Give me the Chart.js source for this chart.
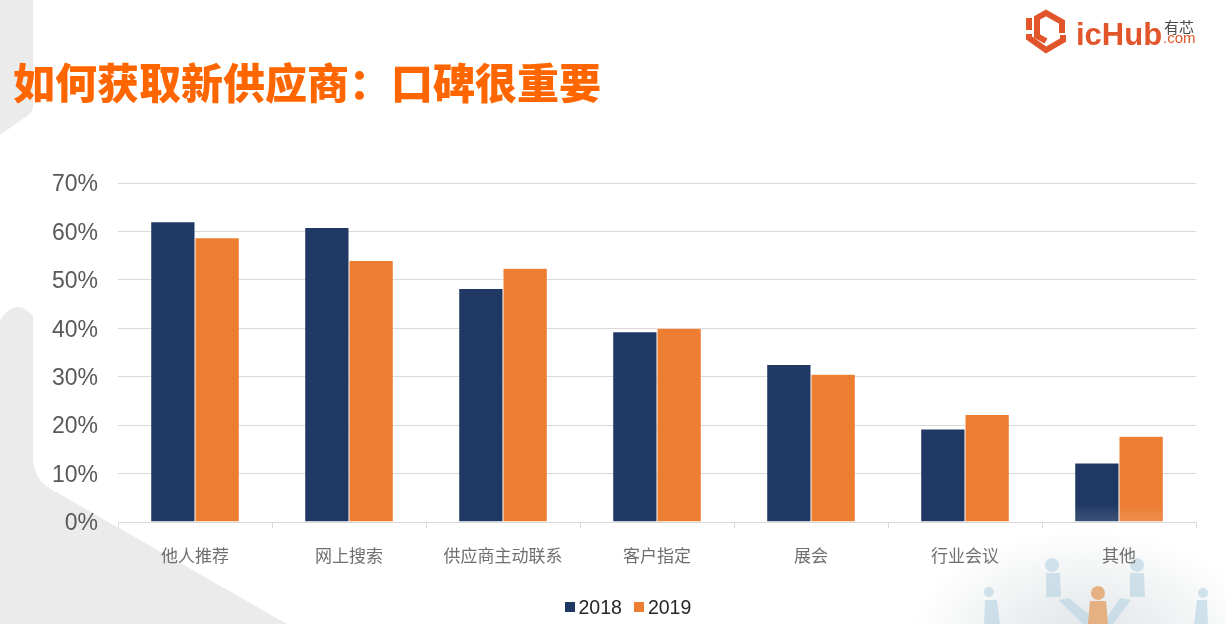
<!DOCTYPE html>
<html lang="zh-CN">
<head>
<meta charset="utf-8">
<title>如何获取新供应商</title>
<script src="https://cdn.jsdelivr.net/npm/chart.js@4/dist/chart.umd.min.js"></script>
<style>
  html, body { margin: 0; padding: 0; background: #fff; overflow: hidden; }
  #slide { position: relative; width: 1225px; height: 624px; overflow: hidden; }
  #bg, #logo, #trendsChart, #title, #fade, #legend { position: absolute; }
  #bg, #trendsChart { left: 0; top: 0; }
  #title {
    left: 13px; top: 51px; margin: 0; white-space: nowrap;
    font: 900 42px/60px "Noto Sans CJK SC", sans-serif; color: #ff6600;
  }
  #logo { left: 1020px; top: 4px; }
  #fade {
    left: 1075px; top: 503px; width: 87px; height: 19px;
    background: linear-gradient(rgba(255,255,255,0), rgba(255,255,255,.14));
  }
  #legend {
    left: 565px; top: 596px; display: flex; align-items: center; height: 22px;
    font: 19.5px/22px "Liberation Sans", sans-serif; color: #262626;
  }
  #legend span.swatch { width: 9.5px; height: 9.5px; margin-right: 4px; }
  #legend span.name { margin-right: 12.5px; }
</style>
</head>
<body>
<div id="slide">
  <svg id="bg" width="1225" height="624" viewBox="0 0 1225 624">
    <defs>
      <radialGradient id="corner">
        <stop offset="0" stop-color="#dfe5e8"/>
        <stop offset="0.55" stop-color="#f0f2f3"/>
        <stop offset="1" stop-color="#ffffff"/>
      </radialGradient>
    </defs>
    <path fill="#ebebeb" d="M0 0H33V106Q33 112 27 116L0 135Z"/>
    <path fill="#ebebeb" d="M0 320Q16 296 33 316V455Q33 478 49 488L287 624H0Z"/>
    <ellipse cx="1085" cy="640" rx="175" ry="110" fill="url(#corner)"/>
    <g fill="#b5d3e3" opacity=".6">
      <circle cx="989" cy="592" r="5"/><path d="M985 600h12l3 24h-16z"/>
      <circle cx="1052" cy="565" r="7"/><path d="M1046 573h14l1 24h-15z"/>
      <circle cx="1137" cy="565" r="7"/><path d="M1130 573h14l1 24h-15z"/>
      <circle cx="1203" cy="593" r="5"/><path d="M1197 600h10l1 24h-14z"/>
      <path d="M1058 600l11-2 27 22-5 4h-8z"/>
      <path d="M1131 600l-11-2-17 26h10z"/>
    </g>
    <circle cx="1098" cy="593" r="7" fill="#e5b183"/>
    <path fill="#e5b183" d="M1090 601h16l2 23h-20z"/>
  </svg>

  <canvas id="trendsChart" width="1225" height="624"></canvas>
  <div id="fade"></div>
  <div id="legend"></div>
  <h1 id="title">如何获取新供应商：口碑很重要</h1>

  <svg id="logo" width="185" height="54" viewBox="0 0 185 54">
    <g fill="none" stroke="#e2552a" stroke-width="6">
      <path d="M42 29V18L26 9L17 14V32L26 37"/>
      <path d="M9 14V26"/>
      <path d="M9 30V34L26 46L43 36V31"/>
    </g>
    <text x="56" y="41" font-family="Liberation Sans" font-weight="700" font-size="31" fill="#e2552a">icHub</text>
    <text x="144" y="29" font-family="Noto Sans CJK SC" font-size="15" fill="#4a4a4a">有芯</text>
    <text x="143" y="39" font-family="Liberation Sans" font-size="15" fill="#e2552a">.com</text>
  </svg>
</div>

<script>
const categories = ['他人推荐', '网上搜索', '供应商主动联系', '客户指定', '展会', '行业会议', '其他'];
const series2018 = [62, 60.8, 48.2, 39.3, 32.5, 19.2, 12.2];
const series2019 = [58.7, 54, 52.4, 40, 30.5, 22.2, 17.7];
const yearLabels = ['2018', '2019'];
const yMax = 70;
const yStep = 10;

const navy = '#1f3864';
const orange = '#ed7d31';
const gridColor = '#d9d9d9';

const ctx = document.getElementById('trendsChart').getContext('2d');

const chart = new Chart(ctx, {
    type: 'bar',
    data: {
        labels: categories,
        datasets: [
            { label: yearLabels[0], data: series2018, backgroundColor: navy },
            { label: yearLabels[1], data: series2019, backgroundColor: orange }
        ]
    },
    options: {
        responsive: false,
        animation: false,
        devicePixelRatio: 1,
        datasets: {
            // thin white border keeps the gridlines off the bars
            bar: {
                categoryPercentage: 0.575,
                barPercentage: 1,
                borderColor: '#ffffff',
                borderWidth: 0.5,
                borderSkipped: 'bottom'
            }
        },
        layout: {
            padding: { left: 0, right: 29, top: 183, bottom: 0 }
        },
        plugins: {
            tooltip: { enabled: false },
            legend: { display: false }
        },
        scales: {
            x: {
                afterFit(scale) { scale.height = 102; },
                grid: {
                    display: true,
                    drawOnChartArea: false,
                    drawTicks: true,
                    offset: true,
                    tickLength: 6,
                    color: gridColor
                },
                border: { color: gridColor },
                ticks: {
                    color: '#6f6f6f',
                    padding: 17,
                    maxRotation: 0,
                    autoSkip: false,
                    font: { family: '"Noto Sans CJK SC"', size: 17 }
                }
            },
            y: {
                min: 0,
                max: yMax,
                afterFit(scale) { scale.width = 118; },
                grid: { color: gridColor, drawTicks: false },
                border: { display: false },
                ticks: {
                    stepSize: yStep,
                    padding: 20,
                    labelOffset: 2,
                    color: '#595959',
                    font: { family: '"Liberation Sans"', size: 23 },
                    callback: value => value + '%'
                }
            }
        }
    }
});

// legend sits tighter than the built-in one allows
const legendDiv = document.getElementById('legend');
chart.data.datasets.forEach(ds => {
    const swatch = document.createElement('span');
    swatch.className = 'swatch';
    swatch.style.background = ds.backgroundColor;
    const name = document.createElement('span');
    name.className = 'name';
    name.textContent = ds.label;
    legendDiv.append(swatch, name);
});
</script>
</body>
</html>
